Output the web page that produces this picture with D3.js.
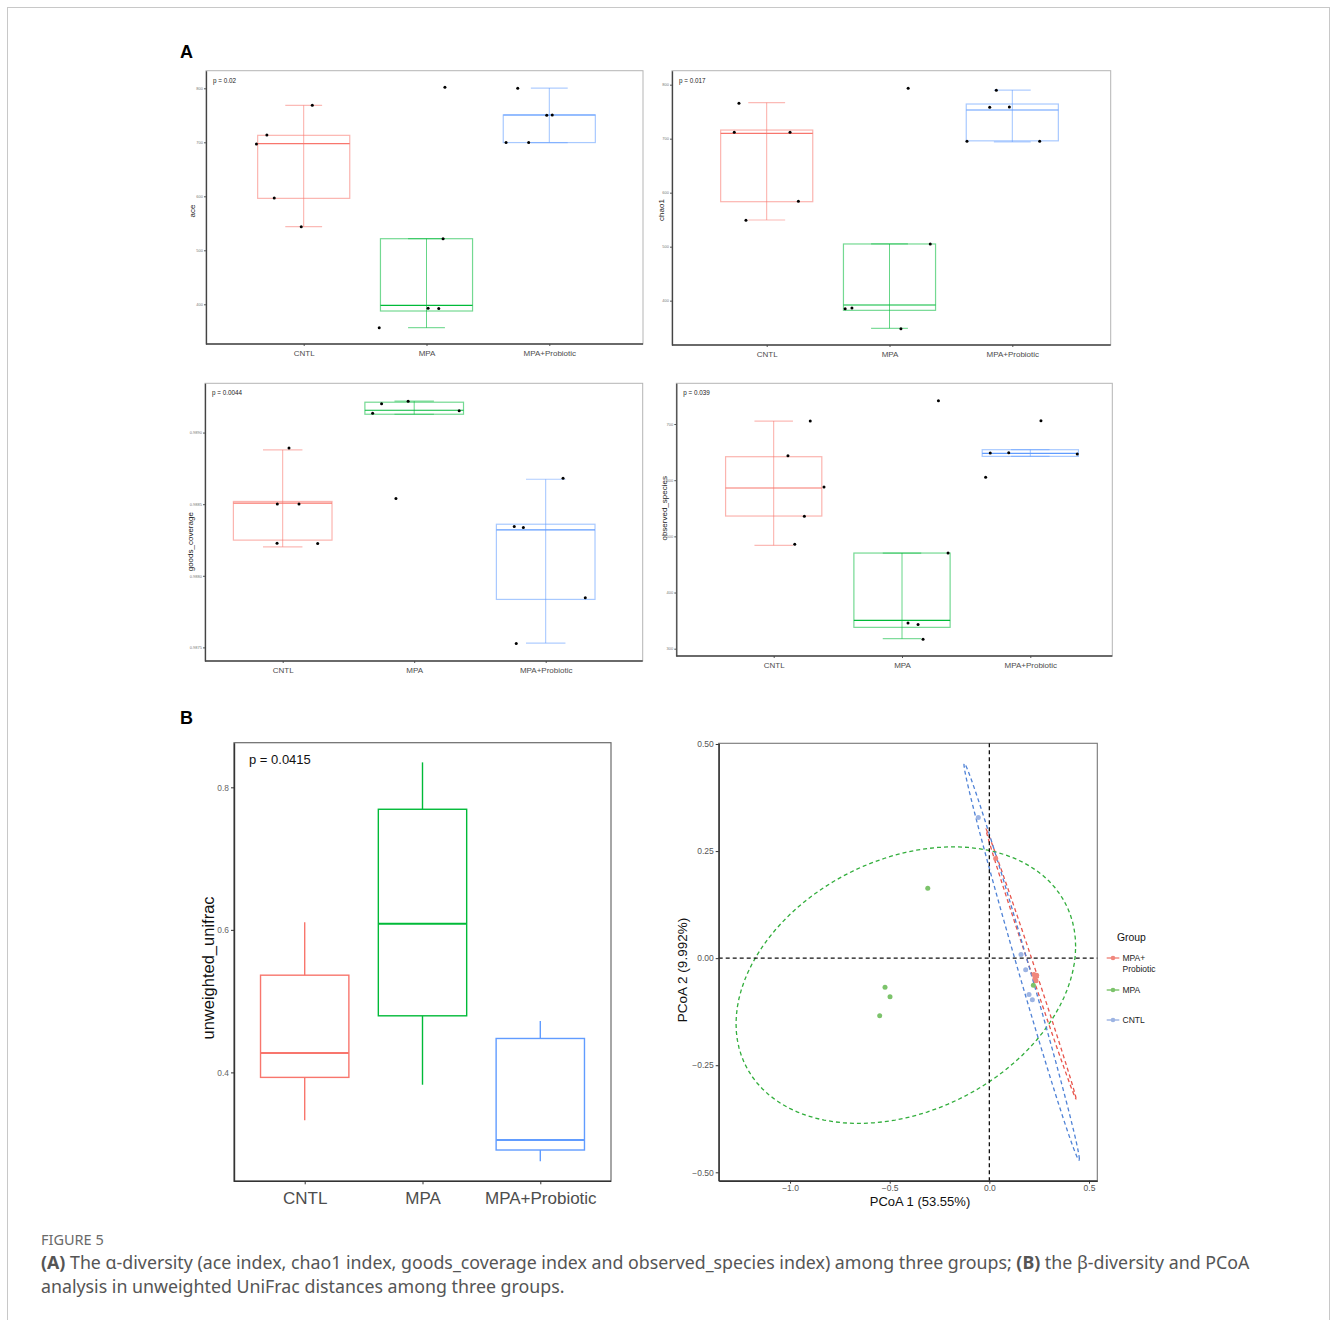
<!DOCTYPE html>
<html>
<head>
<meta charset="utf-8">
<script src="https://cdn.jsdelivr.net/npm/d3@7"></script>
<style>
body { margin: 0; background: #fff; }
text { font-family: "Liberation Sans", Arial, sans-serif; }
</style>
</head>
<body>
<div id="chart"></div>
<script>
//Groups
var groups = ["CNTL", "MPA", "MPA+Probiotic"];
var groupColors = ["#F8766D", "#00BA38", "#619CFF"];

//Box stats per group: [lower whisker, q1, median, q3, upper whisker]
var aceBox = [[543.8, 596.2, 697.5, 712.9, 768.5], [356.7, 387.6, 398.1, 521.5, 521.5], [699.5, 699.5, 750.6, 750.6, 800.5]];
var acePoints = [[697, 713.5, 597, 543.8, 768.5], [801.8, 521.5, 392.6, 392.4, 356.7], [800.3, 750, 750.6, 699.5, 699.5]];
var aceJitter = [[-0.385, -0.30, -0.24, -0.02, 0.07], [0.15, 0.135, 0.013, 0.10, -0.385], [-0.257, -0.021, 0.024, -0.352, -0.168]];
var aceTicks = [400, 500, 600, 700, 800];

var chaoBox = [[549.4, 583.3, 709.9, 716, 766.7], [348.8, 382.1, 392, 505, 505], [694, 696, 753.1, 764.2, 790.1]];
var chaoPoints = [[765.4, 711.7, 711.7, 584, 548.8], [793.2, 505, 385.2, 386.4, 348.1], [789.5, 758, 758.6, 695.1, 695.1]];
var chaoJitter = [[-0.226, -0.264, 0.19, 0.258, -0.169], [0.152, 0.332, -0.361, -0.306, 0.093], [-0.13, -0.184, -0.024, -0.369, 0.223]];
var chaoTicks = [400, 500, 600, 700, 800];

var goodsBox = [[0.988202, 0.988249, 0.988507, 0.988519, 0.988879], [0.989128, 0.989128, 0.989156, 0.989212, 0.989219], [0.987530, 0.987835, 0.988321, 0.988360, 0.988674]];
var goodsPoints = [[0.988893, 0.988502, 0.988502, 0.988228, 0.988226], [0.989202, 0.989219, 0.989135, 0.989153, 0.988540], [0.988681, 0.988344, 0.988337, 0.987847, 0.987528]];
var goodsJitter = [[0.048, -0.041, 0.124, -0.043, 0.266], [-0.248, -0.046, -0.316, 0.342, -0.139], [0.132, -0.239, -0.170, 0.301, -0.224]];
var goodsTicks = [0.9875, 0.9880, 0.9885, 0.9890];

var obsBox = [[484.0, 536.2, 586.1, 641.8, 705.3], [317.8, 338.0, 350.5, 470.3, 470.3], [642.4, 642.4, 647.8, 654.3, 654.3]];
var obsPoints = [[705.3, 643.6, 587.8, 535.6, 485.8], [741.5, 470.3, 345.7, 343.3, 316.6], [705.9, 648.4, 649.0, 646.6, 605.1]];
var obsJitter = [[0.285, 0.111, 0.392, 0.239, 0.164], [0.284, 0.359, 0.047, 0.125, 0.164], [0.083, -0.312, -0.168, 0.366, -0.348]];
var obsTicks = [300, 400, 500, 600, 700];

var unifracBox = [[0.3327, 0.3930, 0.4271, 0.5364, 0.6107], [0.3827, 0.4794, 0.6084, 0.7692, 0.8350], [0.2752, 0.2911, 0.3051, 0.4476, 0.4720]];
var unifracTicks = [0.4, 0.6, 0.8];

//PCoA scores
var pcoaGroups = ["MPA+Probiotic", "MPA", "CNTL"];
var pcoaPointColors = ["#F0877D", "#7CC36B", "#9DB4E3"];
var pcoaEllipseColors = ["#E8554C", "#32AE3C", "#4F82D6"];
var probPC1 = [0.0318, 0.2241, 0.2375, 0.2342, 0.2291];
var probPC2 = [0.2327, -0.0381, -0.0397, -0.0529, -0.0467];
var mpaPC1 = [-0.309, -0.5235, -0.4984, -0.5502, 0.2208];
var mpaPC2 = [0.1634, -0.0677, -0.0903, -0.1346, -0.0630];
var cntlPC1 = [-0.0552, 0.1589, 0.1823, 0.1990, 0.2158];
var cntlPC2 = [0.3284, 0.0086, -0.0272, -0.0848, -0.0973];
//ellipse: centre x, centre y, cholesky terms u11, u12, u22
var probEllipse = [0.209, -0.0137, 0.2258, -0.314, 0.0174];
var mpaEllipse = [-0.419, -0.063, 0.852, 0.0903, 0.310];
var cntlEllipse = [0.1622, -0.0086, 0.2895, -0.4607, 0.048];
var pcoaXTicks = [-1.0, -0.5, 0.0, 0.5];
var pcoaYTicks = [-0.50, -0.25, 0.00, 0.25, 0.50];

//Define SVG
var svg = d3.select("div#chart")
    .append("svg")
    .attr("width", 1331)
    .attr("height", 1320);

svg.append("rect")
    .attr("x", 7.5).attr("y", 7.5)
    .attr("width", 1322).attr("height", 1340)
    .attr("fill", "none")
    .attr("stroke", "#c8c8c8");

svg.append("text").attr("x", 180).attr("y", 58).attr("font-size", "18px").attr("font-weight", "bold").text("A");
svg.append("text").attr("x", 180).attr("y", 724).attr("font-size", "18px").attr("font-weight", "bold").text("B");

//Draw one alpha diversity panel
function alphaPanel(cfg, boxes, points, jitters) {
    var x = d3.scalePoint().domain(groups).range([cfg.c0, cfg.c1]);
    var step = x.step();
    var y = d3.scaleLinear().domain(cfg.domain).range([cfg.y1, cfg.y0]);
    var g = svg.append("g");

    g.append("rect")
        .attr("x", cfg.x0).attr("y", cfg.y0)
        .attr("width", cfg.x1 - cfg.x0).attr("height", cfg.y1 - cfg.y0)
        .attr("fill", "none").attr("stroke", "#b5b5b5").attr("stroke-width", 1);

    groups.forEach(function(grp, i) {
        var cx = x(grp), bw = step * 0.75, cw = step * 0.3, b = boxes[i], col = groupColors[i];
        var bg = g.append("g").attr("stroke", col).attr("fill", "none");
        bg.append("line").attr("x1", cx).attr("x2", cx).attr("y1", y(b[0])).attr("y2", y(b[4]))
            .attr("stroke-opacity", 0.6);
        bg.append("line").attr("x1", cx - cw / 2).attr("x2", cx + cw / 2).attr("y1", y(b[0])).attr("y2", y(b[0]))
            .attr("stroke-opacity", 0.5).attr("stroke-width", 1.2);
        bg.append("line").attr("x1", cx - cw / 2).attr("x2", cx + cw / 2).attr("y1", y(b[4])).attr("y2", y(b[4]))
            .attr("stroke-opacity", 0.5).attr("stroke-width", 1.2);
        bg.append("rect").attr("x", cx - bw / 2).attr("width", bw)
            .attr("y", y(b[3])).attr("height", y(b[1]) - y(b[3]))
            .attr("stroke-opacity", 0.55).attr("stroke-width", 1.2);
        bg.append("line").attr("x1", cx - bw / 2).attr("x2", cx + bw / 2).attr("y1", y(b[2])).attr("y2", y(b[2]))
            .attr("stroke-width", 1.2);

        g.selectAll(".dot" + i)
            .data(points[i])
            .enter().append("circle")
            .attr("cx", function(d, j) { return cx + jitters[i][j] * step; })
            .attr("cy", function(d) { return y(d); })
            .attr("r", 1.5)
            .attr("fill", "#000");
    });

    //y axis
    var yAxis = d3.axisLeft(y).tickValues(cfg.ticks).tickSize(2).tickSizeOuter(0).tickPadding(1).tickFormat(cfg.fmt);
    g.append("g")
        .attr("transform", "translate(" + cfg.x0 + ",0)")
        .call(yAxis)
        .call(function(a) { a.select(".domain").attr("stroke", "#444").attr("stroke-width", 1.3); })
        .call(function(a) { a.selectAll(".tick line").attr("stroke", "#555"); })
        .call(function(a) { a.selectAll(".tick text").attr("fill", "#777").attr("font-size", "4px").attr("font-family", "Liberation Sans"); });

    //x axis
    var xAxis = d3.axisBottom(x).tickSize(2).tickSizeOuter(0).tickPadding(4);
    g.append("g")
        .attr("transform", "translate(0," + cfg.y1 + ")")
        .call(xAxis)
        .call(function(a) { a.select(".domain").remove(); })
        .call(function(a) { a.selectAll(".tick line").attr("stroke", "#555"); })
        .call(function(a) { a.selectAll(".tick text").attr("fill", "#4d4d4d").attr("font-size", "8px").attr("font-family", "Liberation Sans"); });
    g.append("line")
        .attr("x1", cfg.x0).attr("x2", cfg.x1).attr("y1", cfg.y1).attr("y2", cfg.y1)
        .attr("stroke", "#444").attr("stroke-width", 1.3);

    g.append("text")
        .attr("x", cfg.x0 + 7).attr("y", cfg.y0 + 12)
        .attr("font-size", "6.3px").attr("fill", "#222")
        .text(cfg.p);

    g.append("text")
        .attr("transform", "translate(" + cfg.tx + "," + cfg.ty + ") rotate(-90)")
        .attr("text-anchor", "middle")
        .attr("font-size", "8px").attr("fill", "#222")
        .text(cfg.title);
}

alphaPanel({x0: 206, x1: 643, y0: 70.7, y1: 344, c0: 303.7, c1: 549.3, domain: [326.5, 832.6],
    ticks: aceTicks, fmt: d3.format("d"), p: "p = 0.02", title: "ace", tx: 194.5, ty: 211}, aceBox, acePoints, aceJitter);
alphaPanel({x0: 672, x1: 1110.7, y0: 70.7, y1: 345, c0: 766.7, c1: 1012.3, domain: [317.9, 825.9],
    ticks: chaoTicks, fmt: d3.format("d"), p: "p = 0.017", title: "chao1", tx: 663.5, ty: 210}, chaoBox, chaoPoints, chaoJitter);
alphaPanel({x0: 205, x1: 642.7, y0: 383.3, y1: 661, c0: 282.7, c1: 545.7, domain: [0.987405, 0.989344],
    ticks: goodsTicks, fmt: d3.format(".4f"), p: "p = 0.0044", title: "goods_coverage", tx: 192.5, ty: 541.7}, goodsBox, goodsPoints, goodsJitter);
alphaPanel({x0: 676.3, x1: 1112.3, y0: 383.3, y1: 656, c0: 773.7, c1: 1030.3, domain: [287, 772.5],
    ticks: obsTicks, fmt: d3.format("d"), p: "p = 0.039", title: "observed_species", tx: 666.5, ty: 508.3}, obsBox, obsPoints, obsJitter);

//Beta diversity boxplot
var bx0 = 234, bx1 = 611, by0 = 742.7, by1 = 1181.3;
var xB = d3.scalePoint().domain(groups).range([304.7, 540.3]);
var yB = d3.scaleLinear().domain([0.2472, 0.8626]).range([by1, by0]);
var gB = svg.append("g");
gB.append("rect")
    .attr("x", bx0).attr("y", by0).attr("width", bx1 - bx0).attr("height", by1 - by0)
    .attr("fill", "none").attr("stroke", "#6b6b6b").attr("stroke-width", 1.2);
groups.forEach(function(grp, i) {
    var cx = xB(grp), bw = xB.step() * 0.75, b = unifracBox[i];
    var bg = gB.append("g").attr("stroke", groupColors[i]).attr("fill", "none").attr("stroke-width", 1.4);
    bg.append("line").attr("x1", cx).attr("x2", cx).attr("y1", yB(b[0])).attr("y2", yB(b[1]));
    bg.append("line").attr("x1", cx).attr("x2", cx).attr("y1", yB(b[3])).attr("y2", yB(b[4]));
    bg.append("rect").attr("x", cx - bw / 2).attr("width", bw)
        .attr("y", yB(b[3])).attr("height", yB(b[1]) - yB(b[3]));
    bg.append("line").attr("x1", cx - bw / 2).attr("x2", cx + bw / 2).attr("y1", yB(b[2])).attr("y2", yB(b[2]))
        .attr("stroke-width", 2);
});
gB.append("g")
    .attr("transform", "translate(" + bx0 + ",0)")
    .call(d3.axisLeft(yB).tickValues(unifracTicks).tickSize(3).tickSizeOuter(0).tickPadding(2).tickFormat(d3.format(".1f")))
    .call(function(a) { a.select(".domain").attr("stroke", "#333").attr("stroke-width", 1.4); })
    .call(function(a) { a.selectAll(".tick line").attr("stroke", "#333"); })
    .call(function(a) { a.selectAll(".tick text").attr("fill", "#666").attr("font-size", "8.4px").attr("font-family", "Liberation Sans"); });
gB.append("g")
    .attr("transform", "translate(0," + by1 + ")")
    .call(d3.axisBottom(xB).tickSize(3).tickSizeOuter(0).tickPadding(8))
    .call(function(a) { a.select(".domain").remove(); })
    .call(function(a) { a.selectAll(".tick line").attr("stroke", "#333"); })
    .call(function(a) { a.selectAll(".tick text").attr("fill", "#4d4d4d").attr("font-size", "17px").attr("font-family", "Liberation Sans"); });
gB.append("line").attr("x1", bx0).attr("x2", bx1).attr("y1", by1).attr("y2", by1)
    .attr("stroke", "#333").attr("stroke-width", 1.4);
gB.append("text").attr("x", 249).attr("y", 764).attr("font-size", "13px").attr("fill", "#111").text("p = 0.0415");
gB.append("text")
    .attr("transform", "translate(214,968) rotate(-90)")
    .attr("text-anchor", "middle")
    .attr("font-size", "16.5px").attr("fill", "#111")
    .text("unweighted_unifrac");

//PCoA
var px0 = 718.7, px1 = 1097.3, py0 = 743.3, py1 = 1180.7;
var xP = d3.scaleLinear().domain([-1.358, 0.5417]).range([px0, px1]);
var yP = d3.scaleLinear().domain([-0.5196, 0.5016]).range([py1, py0]);
var gP = svg.append("g");
gP.append("rect")
    .attr("x", px0).attr("y", py0).attr("width", px1 - px0).attr("height", py1 - py0)
    .attr("fill", "none").attr("stroke", "#777").attr("stroke-width", 1.1);

var pcoaSets = [
    {pc1: probPC1, pc2: probPC2, ell: probEllipse},
    {pc1: mpaPC1, pc2: mpaPC2, ell: mpaEllipse},
    {pc1: cntlPC1, pc2: cntlPC2, ell: cntlEllipse}
];
var ellLine = d3.line()
    .x(function(d) { return xP(d[0]); })
    .y(function(d) { return yP(d[1]); });
pcoaSets.forEach(function(s, i) {
    var e = s.ell;
    var pts = d3.range(0, 101).map(function(k) {
        var t = k / 100 * 2 * Math.PI;
        return [e[0] + e[2] * Math.cos(t), e[1] + e[3] * Math.cos(t) + e[4] * Math.sin(t)];
    });
    gP.append("path")
        .attr("d", ellLine(pts))
        .attr("fill", "none")
        .attr("stroke", pcoaEllipseColors[i])
        .attr("stroke-width", 1.3)
        .attr("stroke-dasharray", "4,3");
});

gP.append("line").attr("x1", px0).attr("x2", px1).attr("y1", yP(0)).attr("y2", yP(0))
    .attr("stroke", "#111").attr("stroke-width", 1.3).attr("stroke-dasharray", "4,3");
gP.append("line").attr("x1", xP(0)).attr("x2", xP(0)).attr("y1", py0).attr("y2", py1)
    .attr("stroke", "#111").attr("stroke-width", 1.3).attr("stroke-dasharray", "4,3");

pcoaSets.forEach(function(s, i) {
    gP.selectAll(".pt" + i)
        .data(s.pc1)
        .enter().append("circle")
        .attr("cx", function(d) { return xP(d); })
        .attr("cy", function(d, j) { return yP(s.pc2[j]); })
        .attr("r", 2.5)
        .attr("fill", pcoaPointColors[i]);
});

gP.append("g")
    .attr("transform", "translate(" + px0 + ",0)")
    .call(d3.axisLeft(yP).tickValues(pcoaYTicks).tickSize(3).tickSizeOuter(0).tickPadding(2).tickFormat(d3.format(".2f")))
    .call(function(a) { a.select(".domain").attr("stroke", "#333").attr("stroke-width", 1.4); })
    .call(function(a) { a.selectAll(".tick line").attr("stroke", "#333"); })
    .call(function(a) { a.selectAll(".tick text").attr("fill", "#555").attr("font-size", "8.5px").attr("font-family", "Liberation Sans"); });
gP.append("g")
    .attr("transform", "translate(0," + py1 + ")")
    .call(d3.axisBottom(xP).tickValues(pcoaXTicks).tickSize(3).tickSizeOuter(0).tickPadding(1).tickFormat(d3.format(".1f")))
    .call(function(a) { a.select(".domain").attr("stroke", "#333").attr("stroke-width", 1.4); })
    .call(function(a) { a.selectAll(".tick line").attr("stroke", "#333"); })
    .call(function(a) { a.selectAll(".tick text").attr("fill", "#555").attr("font-size", "8.5px").attr("font-family", "Liberation Sans"); });
gP.append("text").attr("x", 920).attr("y", 1206).attr("text-anchor", "middle")
    .attr("font-size", "13px").attr("fill", "#111").text("PCoA 1 (53.55%)");
gP.append("text")
    .attr("transform", "translate(687,970) rotate(-90)")
    .attr("text-anchor", "middle")
    .attr("font-size", "13.5px").attr("fill", "#111")
    .text("PCoA 2 (9.992%)");

//Legend
var legend = gP.append("g");
legend.append("text").attr("x", 1117).attr("y", 940.5).attr("font-size", "10.4px").attr("fill", "#111").text("Group");
var legendY = [958, 990, 1020];
var legendLabels = [["MPA+", "Probiotic"], ["MPA"], ["CNTL"]];
pcoaGroups.forEach(function(grp, i) {
    legend.append("line").attr("x1", 1106.7).attr("x2", 1119.3).attr("y1", legendY[i]).attr("y2", legendY[i])
        .attr("stroke", pcoaPointColors[i]).attr("stroke-width", 1.4);
    legend.append("circle").attr("cx", 1113).attr("cy", legendY[i]).attr("r", 2.3).attr("fill", pcoaPointColors[i]);
    legendLabels[i].forEach(function(t, k) {
        legend.append("text").attr("x", 1122.5).attr("y", legendY[i] + 3 + k * 10.5)
            .attr("font-size", "8.5px").attr("fill", "#222").text(t);
    });
});

//Caption
var cap = svg.append("g").style("font-family", "'Noto Sans', 'Open Sans', sans-serif");
cap.append("text").attr("x", 41).attr("y", 1245).attr("font-size", "14.5px").attr("fill", "#6a6a6a")
    .style("font-family", "'Noto Sans', sans-serif").text("FIGURE 5");
var line1 = cap.append("text").attr("x", 41).attr("y", 1269).attr("font-size", "17.8px").attr("fill", "#555")
    .style("font-family", "'Noto Sans', sans-serif");
line1.append("tspan").attr("font-weight", "bold").text("(A)");
line1.append("tspan").text(" The α-diversity (ace index, chao1 index, goods_coverage index and observed_species index) among three groups; ");
line1.append("tspan").attr("font-weight", "bold").text("(B)");
line1.append("tspan").text(" the β-diversity and PCoA");
cap.append("text").attr("x", 41).attr("y", 1293).attr("font-size", "17.8px").attr("fill", "#555")
    .style("font-family", "'Noto Sans', sans-serif")
    .text("analysis in unweighted UniFrac distances among three groups.");
</script>
</body>
</html>
